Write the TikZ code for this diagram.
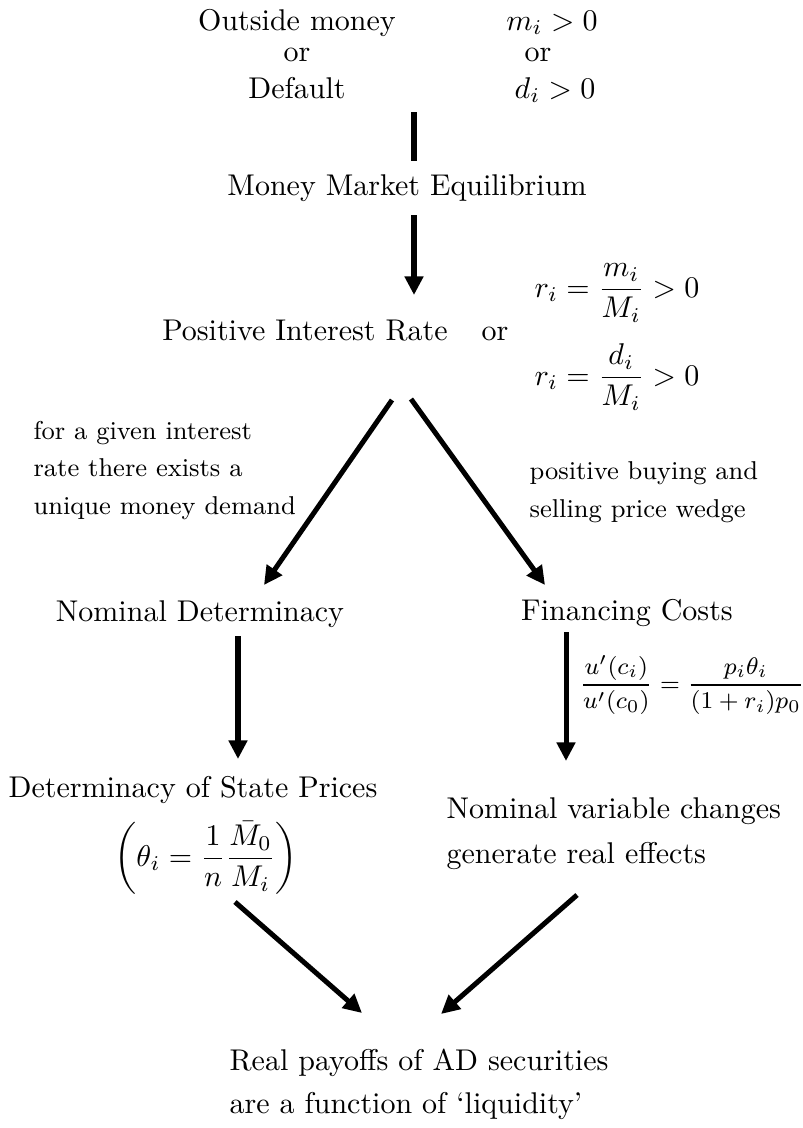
\documentclass[tikz,border=0pt]{standalone}
\usetikzlibrary{arrows.meta}
\begin{document}
\begin{tikzpicture}[x={(0.33333pt,0)},y={(0,-0.33333pt)},
  txt/.style={inner sep=0pt,anchor=base,font=\fontsize{10}{12}\selectfont},
  note/.style={inner sep=0pt,anchor=base west,font=\fontsize{8.6}{12}\selectfont},
  conn/.style={line width=1.67pt},
  arr/.style={conn,-{Triangle[length=6.2pt,width=6pt]}}]
\useasboundingbox (0,0) rectangle (803,1128);
% top block
\node[txt] (om) at (297,30) {Outside money};
\node[txt] (or1) at (297,62) {or};
\node[txt] (def) at (297,98) {Default};
\node[txt] (mi) at (552,30) {$m_i>0$};
\node[txt] (or2) at (538,62) {or};
\node[txt] (di) at (555,98) {$d_i>0$};
\node[txt] (mme) at (407,195) {Money Market Equilibrium};
\coordinate (l1a) at (414,112);
\coordinate (l1b) at (414,161);
\draw[conn] (l1a) -- (l1b);
\coordinate (a1a) at (414,215);
\coordinate (a1b) at (414,295);
\draw[arr] (a1a) -- (a1b);
% positive interest rate
\node[txt] (pir) at (305,340) {Positive Interest Rate};
\node[txt] (or3) at (495,340) {or};
\node[txt] (r1) at (617,297) {$\displaystyle r_i=\frac{m_i}{M_i}>0$};
\node[txt] (r2) at (617,385) {$\displaystyle r_i=\frac{d_i}{M_i}>0$};
% notes
\node[note] (n1) at (33,439) {for a given interest};
\node[note] (n2) at (33,476) {rate there exists a};
\node[note] (n3) at (33,514) {unique money demand};
\node[note] (n4) at (529,479) {positive buying and};
\node[note] (n5) at (529,517) {selling price wedge};
% diagonal arrows
\coordinate (a2a) at (392,400);
\coordinate (a2b) at (264,585);
\draw[arr] (a2a) -- (a2b);
\coordinate (a3a) at (411,399);
\coordinate (a3b) at (545,585);
\draw[arr] (a3a) -- (a3b);
% second level
\node[txt] (nd) at (200,621) {Nominal Determinacy};
\node[txt] (fc) at (627,620) {Financing Costs};
\coordinate (a4a) at (238,636);
\coordinate (a4b) at (238,759);
\draw[arr] (a4a) -- (a4b);
\coordinate (a5a) at (566,632);
\coordinate (a5b) at (566,761);
\draw[arr] (a5a) -- (a5b);
\node[txt,font=\fontsize{8.5}{10}\selectfont] (uf) at (692,691) {$\displaystyle \frac{u'(c_i)}{u'(c_0)}=\frac{p_i\theta_i}{(1+r_i)p_0}$};
% third level
\node[txt] (dsp) at (193,797) {Determinacy of State Prices};
\node[inner sep=0pt,font=\fontsize{10}{12}\selectfont] (th) at (206,858) {$\displaystyle \left(\theta_i=\frac{1}{n}\frac{\bar{M}_0}{M_i}\right)$};
\node[txt,anchor=base west] (nv1) at (446,818) {Nominal variable changes};
\node[txt,anchor=base west] (nv2) at (446,863) {generate real effects};
% bottom arrows
\coordinate (a6a) at (235,902);
\coordinate (a6b) at (362,1013);
\draw[arr] (a6a) -- (a6b);
\coordinate (a7a) at (577,895);
\coordinate (a7b) at (441,1014);
\draw[arr] (a7a) -- (a7b);
\node[txt,anchor=base west] (rp1) at (229,1070) {Real payoffs of AD securities};
\node[txt,anchor=base west] (rp2) at (229,1113) {are a function of `liquidity'};
\end{tikzpicture}
\end{document}
